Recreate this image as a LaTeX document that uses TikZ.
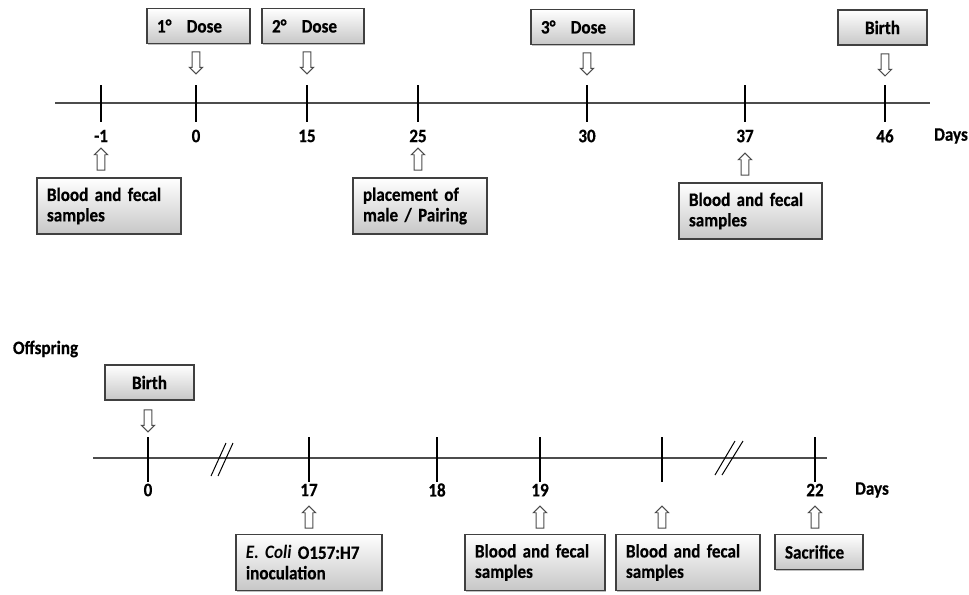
\documentclass[tikz,border=0pt]{standalone}
\usepackage{fontspec}
\setmainfont{Carlito}[FakeStretch=0.9, WordSpace=0.6, BoldFeatures={FakeBold=0.5}]
\usetikzlibrary{%
  shapes.arrows,%
  shadows,%
  positioning%
}
\hyphenpenalty=10000

\begin{document}
\begin{tikzpicture}
  [
  x=0.025cm, y=-0.025cm,
  font=\fontsize{13.5}{14.5}\selectfont\bfseries,
  axis/.style={line width=1.4pt, draw=black!70},
  tick/.style={line width=0.9pt, draw=black},
  box/.style={rectangle, draw=black!75, line width=0.8pt, top color=white, bottom color=black!22,
    minimum height=0.875cm, inner xsep=0.25cm, align=left,
    drop shadow={shadow xshift=1pt, shadow yshift=-1pt, opacity=0.25, fill=black}},
  tallbox/.style={box, minimum height=1.4cm},
  downarr/.style={single arrow, draw=black!70, fill=white, line width=0.7pt, minimum height=0.55cm,
    minimum width=0.32cm, inner sep=2.4pt, single arrow head extend=2pt, shape border rotate=270},
  uparr/.style={downarr, shape border rotate=90}
  ]
\useasboundingbox (0,0) rectangle (969,594);

% mother timeline
\draw[axis] (55,103) -- (930,103);
\foreach \d/\x in {-1/101, 0/196, 15/307, 25/418, 30/587, 37/745, 46/885} {
  \draw[tick] (\x,85) -- (\x,122);
  \node (m\d) at (\x,136) {\d};
}
\node (daysM) at (951,136) {Days};

\node[box, text width=2.075cm] (dose1) at (198.5,26) {1°\hspace{0.8em}Dose};
\node[box, text width=2.05cm] (dose2) at (313,26) {2°\hspace{0.8em}Dose};
\node[box, text width=2.075cm] (dose3) at (582.5,27) {3°\hspace{0.8em}Dose};
\node[box, minimum width=2.225cm, align=center] (birthM) at (882.5,27.5) {Birth};

\node[downarr] (a1) at (196,61) {};
\node[downarr] (a2) at (307,61) {};
\node[downarr] (a3) at (587,62) {};
\node[downarr] (a4) at (885,63) {};

\node[tallbox, text width=3.1cm] (bloodA) at (109,206) {Blood and fecal\\samples};
\node[tallbox, text width=2.85cm] (pairing) at (420,206) {placement of\\male / Pairing};
\node[tallbox, text width=3.075cm] (bloodB) at (750.5,211) {Blood and fecal\\samples};

\node[uparr] (a5) at (101,161) {};
\node[uparr] (a6) at (418,161) {};
\node[uparr] (a7) at (745,166) {};

% offspring timeline
\node[anchor=west] (offspring) at (8,349) {Offspring};
\draw[axis] (93,458) -- (827,458);
\foreach \d/\x in {0/148, 17/309, 18/437, 19/540, 22/815} {
  \draw[tick] (\x,437) -- (\x,482);
  \node (o\d) at (\x,490) {\d};
}
\draw[tick] (662,437) -- (662,482);
\node (daysO) at (872,490) {Days};

% breaks
\draw[tick, line width=0.7pt] (211,476) -- (226,443) (218,476) -- (233,443);
\draw[tick, line width=0.7pt] (715,475) -- (735,441) (722,475) -- (743,441);

\node[box, minimum width=2.225cm, align=center] (birthO) at (149.5,382.5) {Birth};
\node[downarr] (b1) at (148,419) {};

\node[tallbox, text width=3.15cm] (ecoli) at (309,562.5) {\textit{E. Coli} O157:H7\\inoculation};
\node[tallbox, text width=3.0cm] (bloodC) at (535,562.5) {Blood and fecal\\samples};
\node[tallbox, text width=3.1cm] (bloodD) at (688,562.5) {Blood and fecal\\samples};
\node[box, text width=1.7cm] (sacrifice) at (819,552) {Sacrifice};

\node[uparr] (b2) at (309,519) {};
\node[uparr] (b3) at (540,519) {};
\node[uparr] (b4) at (662,519) {};
\node[uparr] (b5) at (815,519) {};

\end{tikzpicture}
\end{document}
